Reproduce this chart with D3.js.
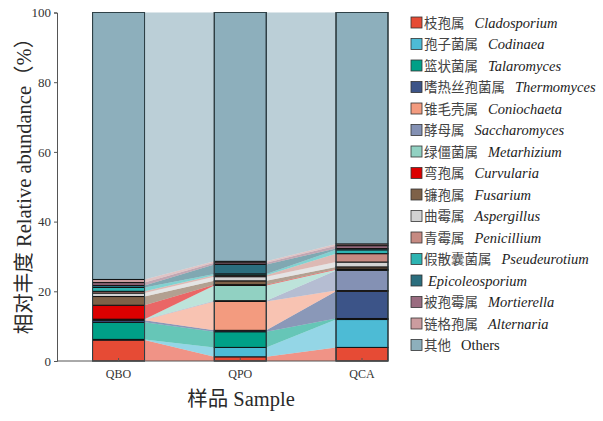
<!DOCTYPE html>
<html>
<head>
<meta charset="utf-8">
<script src="https://cdn.jsdelivr.net/npm/d3@7"></script>
<style>
  body { margin: 0; background: #fff; }
  svg { display: block; }
  .tick text { font-family: "Liberation Serif", serif; fill: #333; }
</style>
</head>
<body>
<div id="container"></div>
<script>
const samples = ["QBO", "QPO", "QCA"];

const generaCn = ["枝孢属", "孢子菌属", "篮状菌属", "嗜热丝孢菌属", "锥毛壳属", "酵母属", "绿僵菌属",
  "弯孢属", "镰孢属", "曲霉属", "青霉属", "假散囊菌属", "", "被孢霉属", "链格孢属", "其他"];
const generaLatin = ["Cladosporium", "Codinaea", "Talaromyces", "Thermomyces", "Coniochaeta",
  "Saccharomyces", "Metarhizium", "Curvularia", "Fusarium", "Aspergillus", "Penicillium",
  "Pseudeurotium", "Epicoleosporium", "Mortierella", "Alternaria", "Others"];

// relative abundance (%), same order as the genera
const qboValues = [6.0, 0.2, 4.9, 0.6, 0.1, 0.1, 0.1, 4.0, 2.5, 1.0, 0.5, 1.1, 0.6, 0.8, 0.9, 76.6];
const qpoValues = [1.2, 2.7, 4.5, 0.4, 8.3, 0.2, 4.4, 0.2, 1.1, 1.2, 0.4, 0.4, 2.7, 0.5, 0.4, 71.4];
const qcaValues = [3.9, 8.0, 0.3, 7.8, 0.2, 5.8, 0.2, 0.2, 0.6, 1.4, 2.4, 1.1, 0.4, 0.8, 0.5, 66.4];

const yTicks = [0, 20, 40, 60, 80, 100];

const palette = ["#E64B35", "#4DBBD5", "#00A087", "#3C5488", "#F39B7F", "#8491B4", "#91D1C2",
  "#DC0000", "#7E6148", "#D2D2D2", "#C68A82", "#2DB4B2", "#2B6E7E", "#9A6C80", "#CB9C9F", "#8DAFBC"];

const width = 603, height = 421;

const rows = samples.map((s, i) => {
  const vals = [qboValues, qpoValues, qcaValues][i];
  const row = { sample: s };
  generaLatin.forEach((g, k) => (row[g] = vals[k]));
  return row;
});

const stacked = d3.stack().keys(generaLatin)(rows);

const svg = d3.select("#container").append("svg")
  .attr("width", width).attr("height", height);

const x = d3.scaleBand().domain(samples).range([57, 388])
  .paddingInner(0.573).paddingOuter(0.146).align(1);
const y = d3.scaleLinear().domain([0, 100]).range([361, 12.5]);
const color = d3.scaleOrdinal().domain(generaLatin).range(palette);

// flows between neighbouring bars
const flow = d3.area()
  .x((d) => d.x)
  .y0((d) => y(d.v[0]))
  .y1((d) => y(d.v[1]));

stacked.forEach((series) => {
  for (let j = 0; j < samples.length - 1; j++) {
    const a = series[j], b = series[j + 1];
    svg.append("path")
      .attr("d", flow([
        { x: x(samples[j]) + x.bandwidth(), v: a },
        { x: x(samples[j + 1]), v: b },
      ]))
      .attr("fill", color(series.key))
      .attr("fill-opacity", 0.6);
  }
});

// bars
svg.selectAll(".layer")
  .data(stacked)
  .enter()
  .append("g")
  .attr("fill", (d) => color(d.key))
  .selectAll("rect")
  .data((d) => d)
  .enter()
  .append("rect")
  .attr("x", (d) => x(d.data.sample))
  .attr("y", (d) => y(d[1]))
  .attr("width", x.bandwidth())
  .attr("height", (d) => y(d[0]) - y(d[1]))
  .attr("stroke", "#111")
  .attr("stroke-width", 1);

// bar outline
svg.selectAll(".outline")
  .data(samples)
  .enter()
  .append("rect")
  .attr("x", (d) => x(d))
  .attr("y", y(100))
  .attr("width", x.bandwidth())
  .attr("height", y(0) - y(100))
  .attr("fill", "none")
  .attr("stroke", "#2f4248")
  .attr("stroke-width", 1);

// axes
const yAxis = svg.append("g")
  .attr("transform", "translate(57,0)")
  .call(d3.axisLeft(y).tickValues(yTicks).tickSize(3).tickPadding(3));
yAxis.selectAll("text").style("font-size", "13px");
yAxis.selectAll("line, path").attr("stroke", "#555");

const xAxis = svg.append("g")
  .attr("transform", "translate(0,361)")
  .call(d3.axisBottom(x).tickSize(-3).tickSizeOuter(0).tickPadding(8));
xAxis.selectAll("text").style("font-size", "12px");
xAxis.selectAll("line, path").attr("stroke", "#555");
xAxis.select(".domain").attr("d", "M57,0H388");

// axis titles
svg.append("text")
  .attr("transform", "translate(31,181) rotate(-90)")
  .attr("text-anchor", "middle")
  .style("font-family", "'Liberation Serif', 'Noto Sans CJK SC', serif")
  .style("font-size", "20.5px")
  .attr("fill", "#2a2a2a")
  .text("相对丰度 Relative abundance（%）");

svg.append("text")
  .attr("x", 241)
  .attr("y", 406)
  .attr("text-anchor", "middle")
  .style("font-family", "'Liberation Serif', 'Noto Sans CJK SC', serif")
  .style("font-size", "20.5px")
  .attr("fill", "#2a2a2a")
  .text("样品 Sample");

// legend
const legend = svg.selectAll(".legend")
  .data(generaLatin)
  .enter()
  .append("g")
  .attr("transform", (d, i) => `translate(411,${17 + i * 21.5})`);

legend.append("rect")
  .attr("width", 11).attr("height", 11)
  .attr("fill", (d) => color(d))
  .attr("stroke", "#333")
  .attr("stroke-width", 0.8);

legend.each(function (d, i) {
  const g = d3.select(this);
  let xPos = 13;
  if (generaCn[i]) {
    const cn = g.append("text")
      .attr("x", xPos).attr("y", 10.5)
      .style("font-family", "'Noto Sans CJK SC', sans-serif")
      .style("font-size", "13.5px")
      .attr("fill", "#444")
      .text(generaCn[i]);
    xPos += cn.node().getComputedTextLength() + 10;
  } else {
    xPos += 4;
  }
  g.append("text")
    .attr("x", xPos).attr("y", 10.5)
    .style("font-family", "'Liberation Serif', serif")
    .style("font-style", d === "Others" ? "normal" : "italic")
    .style("font-size", "14.5px")
    .attr("fill", "#222")
    .text(d);
});
</script>
</body>
</html>
